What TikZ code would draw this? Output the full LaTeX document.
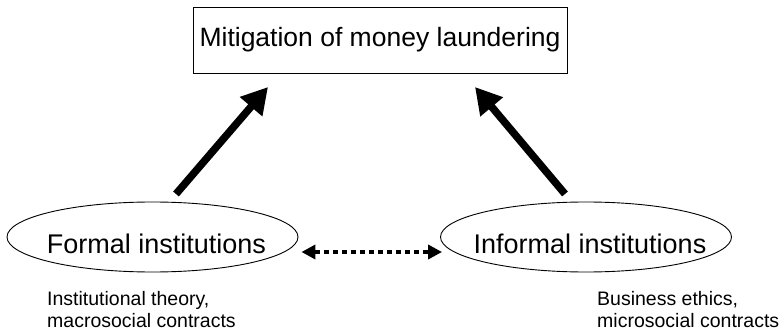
\documentclass[tikz,border=0pt]{standalone}
\usepackage{fontspec}
\setmainfont{Liberation Sans}
\usepackage{tikz}
\usetikzlibrary{arrows.meta,calc,positioning,shapes.geometric}

\tikzset{
  goalbox/.style={draw,line width=0.9pt,minimum width=374pt,minimum height=66pt,inner sep=0pt,
    font=\fontsize{26.5}{30}\selectfont},
  instnode/.style={draw,ellipse,line width=0.9pt,minimum width=291pt,minimum height=70pt,
    inner xsep=-20pt,inner ysep=0pt,text height=32pt,text depth=0pt,
    font=\fontsize{27}{31}\selectfont},
  notetext/.style={align=left,inner sep=0pt,anchor=north west,
    font=\fontsize{19.5}{22}\selectfont},
  bigarrow/.style={line width=7.5pt,-{Triangle[length=26pt,width=28pt]}},
  linkarrow/.style={line width=4.5pt,dash pattern=on 5pt off 4pt,
    {Triangle[length=14pt,width=14pt]}-{Triangle[length=14pt,width=14pt]}}
}

\begin{document}
\begin{tikzpicture}[x=1pt,y=1pt]
  \useasboundingbox (0,0) rectangle (780,330);
  % top box
  \node[goalbox] (goal) at (380,290) {Mitigation of money laundering};
  % the two kinds of institutions
  \node[instnode] (formal) at (152.5,93) {\hspace*{8pt}Formal institutions};
  \node[instnode] (informal) at (586,93) {\hspace*{8pt}Informal institutions};
  \node[notetext] (formalnote) at (47,39) {Institutional theory,\\macrosocial contracts};
  \node[notetext] (informalnote) at (597,39) {Business ethics,\\microsocial contracts};
  % arrow ends
  \coordinate (fstart) at (176,136);
  \coordinate (fend) at (268,243);
  \coordinate (istart) at (565,136);
  \coordinate (iend) at (475,243);
  \draw[bigarrow] (fstart) -- (fend);
  \draw[bigarrow] (istart) -- (iend);
  \draw[linkarrow] ($(formal.east |- 0,78)+(3,0)$) -- ($(informal.west |- 0,78)+(2,0)$);
\end{tikzpicture}
\end{document}
